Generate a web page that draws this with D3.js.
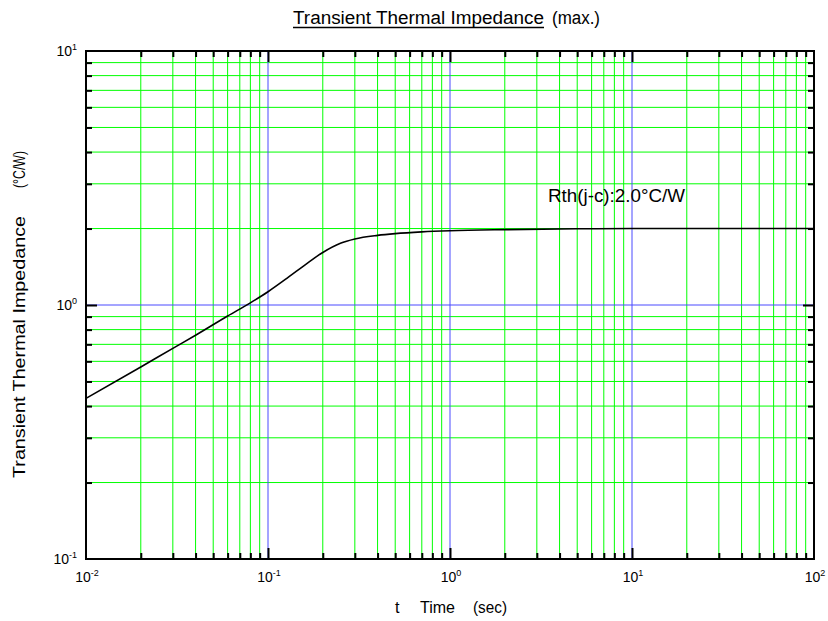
<!DOCTYPE html>
<html><head><meta charset="utf-8">
<script src="https://cdn.jsdelivr.net/npm/d3@7"></script>
<style>
body{margin:0;background:#fff}
svg{display:block}
text{font-family:Arial,"Liberation Sans",sans-serif;fill:#000}
</style>
</head><body>
<svg id="c" width="828" height="621"></svg>
<script>
// ---- data ----
const timeSec = [0.01, 0.02, 0.03, 0.04, 0.06, 0.08, 0.1, 0.13, 0.16, 0.2, 0.25, 0.3, 0.4, 0.5, 0.7, 1, 2, 5, 10, 20, 50, 100];
const zthMax  = [0.429, 0.57, 0.675, 0.76, 0.905, 1.02, 1.128, 1.29, 1.44, 1.61, 1.75, 1.82, 1.88, 1.91, 1.94, 1.96, 1.98, 1.995, 2.0, 2.0, 2.0, 2.0];
const xDecades = [0.01, 0.1, 1, 10, 100];
const xExponents = ["-2", "-1", "0", "1", "2"];
const yDecades = [0.1, 1, 10];
const yExponents = ["-1", "0", "1"];
const titleMain = "Transient Thermal Impedance";
const titleSuffix = "(max.)";
const yTitleMain = "Transient Thermal Impedance";
const yTitleUnit = "(°C/W)";
const xTitleParts = ["t", "Time", "(sec)"];
const annotation = "Rth(j-c):2.0°C/W";

// ---- layout ----
const L = 86, R = 814, T = 51, B = 559;
const svg = d3.select("#c");
const x = d3.scaleLog().domain([0.01, 100]).range([L, R]);
const y = d3.scaleLog().domain([0.1, 10]).range([B, T]);

function minors(decs) {
  const out = [];
  for (let i = 0; i < decs.length - 1; i++)
    for (let k = 2; k <= 9; k++) out.push(decs[i] * k);
  return out;
}
const xMinor = minors(xDecades);
const yMinor = minors(yDecades);
const xMajorInner = xDecades.slice(1, -1);
const yMajorInner = yDecades.slice(1, -1);

const GREEN = "#00ff00", BLUE = "#4a4aff";

// grid
const g = svg.append("g");
g.selectAll(".gx").data(xMinor).join("line")
  .attr("x1", d => x(d)).attr("x2", d => x(d)).attr("y1", T).attr("y2", B)
  .attr("stroke", GREEN).attr("stroke-width", 1);
g.selectAll(".gy").data(yMinor).join("line")
  .attr("y1", d => y(d)).attr("y2", d => y(d)).attr("x1", L).attr("x2", R)
  .attr("stroke", GREEN).attr("stroke-width", 1);
g.selectAll(".bx").data(xMajorInner).join("line")
  .attr("x1", d => x(d)).attr("x2", d => x(d)).attr("y1", T).attr("y2", B)
  .attr("stroke", BLUE).attr("stroke-width", 1);
g.selectAll(".by").data(yMajorInner).join("line")
  .attr("y1", d => y(d)).attr("y2", d => y(d)).attr("x1", L).attr("x2", R)
  .attr("stroke", BLUE).attr("stroke-width", 1);

// curve
const pts = timeSec.map((t, i) => [t, zthMax[i]]);
svg.append("path").datum(pts)
  .attr("fill", "none").attr("stroke", "#000").attr("stroke-width", 1.6)
  .attr("d", d3.line().x(d => x(d[0])).y(d => y(d[1])).curve(d3.curveMonotoneX));

// ticks (inside, all four sides) via d3 axes
function tickAxis(axisFn, scale, vals, size, transform) {
  const a = axisFn(scale).tickValues(vals).tickSize(size).tickFormat("");
  const gg = svg.append("g").attr("transform", transform).call(a);
  gg.select(".domain").remove();
  gg.selectAll(".tick line").attr("stroke", "#000").attr("stroke-width", 2);
}
tickAxis(d3.axisBottom, x, xMinor, -6, `translate(0,${B})`);
tickAxis(d3.axisBottom, x, xMajorInner, -11, `translate(0,${B})`);
tickAxis(d3.axisTop, x, xMinor, -6, `translate(0,${T})`);
tickAxis(d3.axisTop, x, xMajorInner, -11, `translate(0,${T})`);
tickAxis(d3.axisLeft, y, yMinor, -6, `translate(${L},0)`);
tickAxis(d3.axisLeft, y, yMajorInner, -11, `translate(${L},0)`);
tickAxis(d3.axisRight, y, yMinor, -6, `translate(${R},0)`);
tickAxis(d3.axisRight, y, yMajorInner, -11, `translate(${R},0)`);

// frame
svg.append("rect").attr("x", L).attr("y", T).attr("width", R - L).attr("height", B - T)
  .attr("fill", "none").attr("stroke", "#000").attr("stroke-width", 2);

// tick labels
xDecades.forEach((d, i) => {
  const t = svg.append("text").attr("x", x(d) + 1).attr("y", 582)
    .attr("text-anchor", "middle").style("font-size", "14px");
  t.append("tspan").text("10");
  t.append("tspan").attr("dy", -6).style("font-size", "9px").text(xExponents[i]);
});
yDecades.forEach((d, i) => {
  const t = svg.append("text").attr("x", 77).attr("y", y(d) + 5)
    .attr("text-anchor", "end").style("font-size", "14px");
  t.append("tspan").text("10");
  t.append("tspan").attr("dy", -6).style("font-size", "9px").text(yExponents[i]);
});

// title
svg.append("text").attr("x", 293).attr("y", 24).style("font-size", "18px")
  .attr("textLength", 251).attr("lengthAdjust", "spacingAndGlyphs").text(titleMain);
svg.append("text").attr("x", 552).attr("y", 24).style("font-size", "18px")
  .attr("textLength", 48).attr("lengthAdjust", "spacingAndGlyphs").text(titleSuffix);
svg.append("line").attr("x1", 293).attr("x2", 544).attr("y1", 27.5).attr("y2", 27.5)
  .attr("stroke", "#000").attr("stroke-width", 1.3);

// x title
const xPos = [[395, 4.5], [420, 35], [473, 34]];
xTitleParts.forEach((s, i) => {
  svg.append("text").attr("x", xPos[i][0]).attr("y", 613).style("font-size", "16px")
    .attr("textLength", xPos[i][1]).attr("lengthAdjust", "spacingAndGlyphs").text(s);
});

// y title
svg.append("text").attr("transform", "translate(25,478) rotate(-90)").style("font-size", "16px")
  .attr("textLength", 262).attr("lengthAdjust", "spacingAndGlyphs").text(yTitleMain);
svg.append("text").attr("transform", "translate(25,188) rotate(-90)").style("font-size", "16px")
  .attr("textLength", 37).attr("lengthAdjust", "spacingAndGlyphs").text(yTitleUnit);

// annotation
svg.append("text").attr("x", 548).attr("y", 202).style("font-size", "18px")
  .attr("textLength", 137).attr("lengthAdjust", "spacingAndGlyphs").text(annotation);
</script>
</body></html>
